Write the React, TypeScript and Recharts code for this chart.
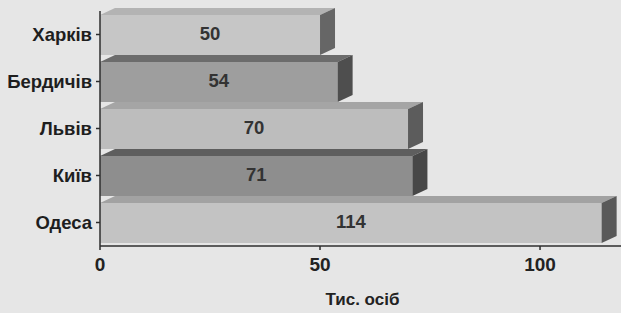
import { BarChart, Bar, XAxis, YAxis, LabelList, Cell } from "recharts"

const cities = ["Харків", "Бердичів", "Львів", "Київ", "Одеса"]
const population = [50, 54, 70, 71, 114]
const xTicks = [0, 50, 100]

const FRONT = ["#c6c6c6", "#9e9e9e", "#bdbdbd", "#8e8e8e", "#c3c3c3"]
const TOP = ["#b3b3b3", "#6c6c6c", "#a5a5a5", "#5e5e5e", "#a2a2a2"]
const SIDE = ["#666666", "#4e4e4e", "#5c5c5c", "#474747", "#595959"]

const data = cities.map((city, i) => ({ city, value: population[i], idx: i }))

const DX = 15
const DY = 7

function Box3D(props: any) {
  const { x, y, width, height, payload } = props
  const i = payload.idx
  const top = y - 3
  const fy = top + DY
  const bottom = y + height - 3
  return (
    <g>
      <rect x={x} y={fy} width={width} height={bottom - fy} fill={FRONT[i]} />
      <polygon
        points={`${x},${fy} ${x + DX},${top} ${x + width + DX},${top} ${x + width},${fy}`}
        fill={TOP[i]}
      />
      <polygon
        points={`${x + width},${fy} ${x + width + DX},${top} ${x + width + DX},${bottom - DY} ${x + width},${bottom}`}
        fill={SIDE[i]}
      />
    </g>
  )
}

const font = "'Liberation Sans', Arial, sans-serif"

export default function App() {
  return (
    <div style={{ position: "fixed", left: 0, top: 0, width: 621, height: 313, background: "#e6e6e6", fontFamily: font }}>
      <BarChart
        width={621}
        height={313}
        data={data}
        layout="vertical"
        margin={{ top: 11, right: 0, bottom: 0, left: 0 }}
        barCategoryGap={0}
      >
        <XAxis
          type="number"
          domain={[0, 118.4]}
          ticks={xTicks}
          height={67}
          stroke="#2e2e2e"
          strokeWidth={1.5}
          tickSize={4}
          tick={{ fill: "#222", fontSize: 19, fontWeight: 700, fontFamily: font, dy: 6 }}
          label={{ value: "Тис. осіб", position: "insideBottom", offset: 8, dx: 2, fill: "#222", fontSize: 17, fontWeight: 700, fontFamily: font }}
        />
        <YAxis
          type="category"
          dataKey="city"
          width={100}
          stroke="#2e2e2e"
          strokeWidth={1.5}
          tickSize={4}
          tick={{ fill: "#1e1e1e", fontSize: 18.5, fontWeight: 700, fontFamily: font, dx: -2 }}
        />
        <Bar dataKey="value" isAnimationActive={false} shape={<Box3D />}>
          {data.map((d) => (
            <Cell key={d.city} fill={FRONT[d.idx]} />
          ))}
          <LabelList
            dataKey="value"
            position="center"
            dy={-1}
            fill="#333"
            fontSize={18.5}
            fontWeight={700}
            fontFamily={font}
          />
        </Bar>
      </BarChart>
    </div>
  )
}
